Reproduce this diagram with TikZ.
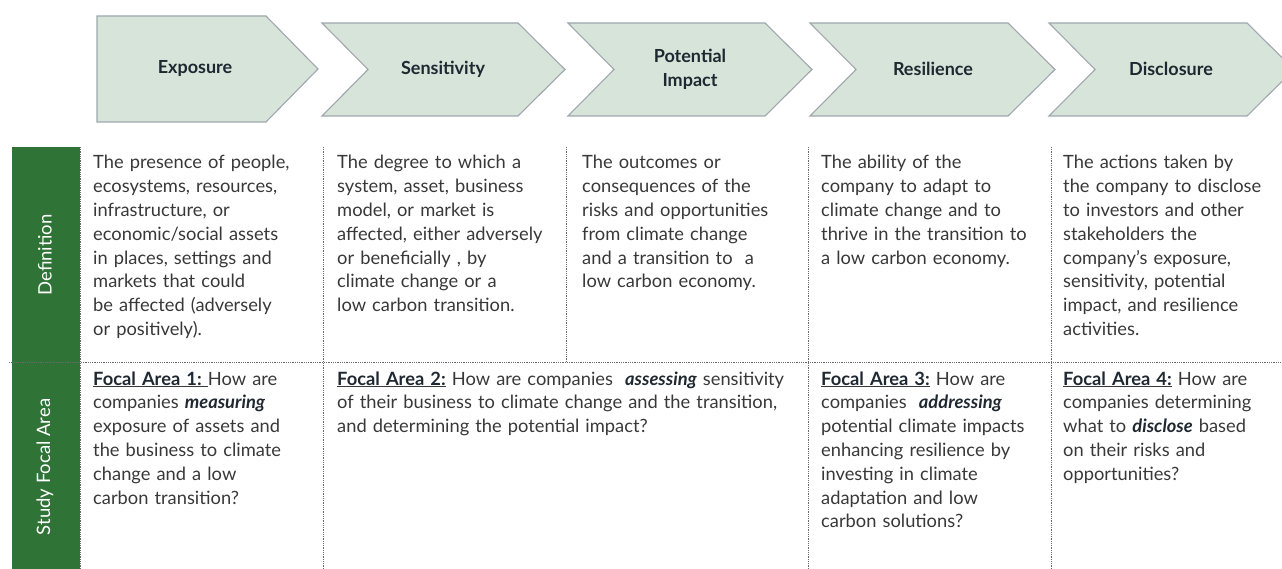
\documentclass[tikz,border=0pt]{standalone}
\usepackage{fontspec}
\setmainfont{Lato}
\definecolor{chevfill}{HTML}{D7E4D9}
\definecolor{chevline}{HTML}{A0A7AF}
\definecolor{barfill}{HTML}{2F7336}
\definecolor{bodytext}{HTML}{383838}
\definecolor{titletext}{HTML}{1F2831}
\definecolor{rulegray}{HTML}{6A6A6A}
\tikzset{
  chev/.style={fill=chevfill, draw=chevline, line width=1.1pt},
  chevtitle/.style={font=\fontsize{18}{24}\selectfont\bfseries, text=titletext, align=center, inner sep=0pt},
  bartext/.style={font=\fontsize{18.5}{20}\selectfont, text=white, rotate=90, inner sep=0pt},
  celltext/.style={font=\fontsize{18.3}{23.8}\selectfont, text=bodytext, align=left,
                   text width=260pt, anchor=base west, inner sep=0pt},
  sep/.style={draw=rulegray, line width=0.8pt, dash pattern=on 0.9pt off 0.9pt}
}
\newcommand{\focal}[1]{\underline{\textbf{\color{titletext}#1}}}
\newcommand{\keyword}[1]{\textbf{\textit{\color{titletext}#1}}}
\begin{document}
\begin{tikzpicture}[x=1pt,y=-1pt]
\useasboundingbox (0,0) rectangle (1282,569);

% process chevrons
\begin{scope}
\clip (0,0) rectangle (1282,569);
\path[chev] (97,16) -- (266,16) -- (318,69) -- (266,122) -- (97,122) -- cycle;
\foreach \l/\r in {322/518, 568/765, 810/1008, 1049/1247}{
  \path[chev] (\l,23) -- (\r,23) -- ({\r+47},69.5) -- (\r,116) -- (\l,116) -- ({\l+46},69.5) -- cycle;
}
\end{scope}
\node[chevtitle] (exposure)    at (195,69)  {Exposure};
\node[chevtitle] (sensitivity) at (443,69)  {Sensitivity};
\node[chevtitle] (impact)      at (690,69)  {Potential\\Impact};
\node[chevtitle] (resilience)  at (933,69)  {Resilience};
\node[chevtitle] (disclosure)  at (1171,69) {Disclosure};

% row header bar
\fill[barfill] (12,147) rectangle (80,569);
\node[bartext] (defhead)   at (45,255) {Definition};
\node[bartext] (focalhead) at (45,467) {Study Focal Area};

% grid separators
\draw[sep] (9,362) -- (1282,362);
\draw[sep] (80,147) -- (80,569);
\draw[sep] (323,147) -- (323,569);
\draw[sep] (566,147) -- (566,362);
\draw[sep] (808,147) -- (808,569);
\draw[sep] (1051,147) -- (1051,569);

% definitions
\node[celltext] (def1) at (93,169) {The presence of people,\\ ecosystems, resources,\\ infrastructure, or\\ economic/social assets\\ in places, settings and\\ markets that could\\ be affected (adversely\\ or positively).};
\node[celltext] (def2) at (337,169) {The degree to which a\\ system, asset, business\\ model, or market is\\ affected, either adversely\\ or beneficially , by\\ climate change or a\\ low carbon transition.};
\node[celltext] (def3) at (582,169) {The outcomes or\\ consequences of the\\ risks and opportunities\\ from climate change\\ and a transition to \ a\\ low carbon economy.};
\node[celltext] (def4) at (821,169) {The ability of the\\ company to adapt to\\ climate change and to\\ thrive in the transition to\\ a low carbon economy.};
\node[celltext] (def5) at (1063,169) {The actions taken by\\ the company to disclose\\ to investors and other\\ stakeholders the\\ company's exposure,\\ sensitivity, potential\\ impact, and resilience\\ activities.};

% focal areas
\node[celltext] (focal1) at (93,385) {\focal{Focal Area 1:\ }How are\\ companies \keyword{measuring}\\ exposure of assets and\\ the business to climate\\ change and a low\\ carbon transition?};
\node[celltext, text width=470pt] (focal2) at (337,385) {\focal{Focal Area 2:} How are companies \ \keyword{assessing} sensitivity\\ of their business to climate change and the transition,\\ and determining the potential impact?};
\node[celltext] (focal3) at (821,385) {\focal{Focal Area 3:} How are\\ companies \ \keyword{addressing}\\ potential climate impacts\\ enhancing resilience by\\ investing in climate\\ adaptation and low\\ carbon solutions?};
\node[celltext] (focal4) at (1063,385) {\focal{Focal Area 4:} How are\\ companies determining\\ what to \keyword{disclose} based\\ on their risks and\\ opportunities?};
\end{tikzpicture}
\end{document}
